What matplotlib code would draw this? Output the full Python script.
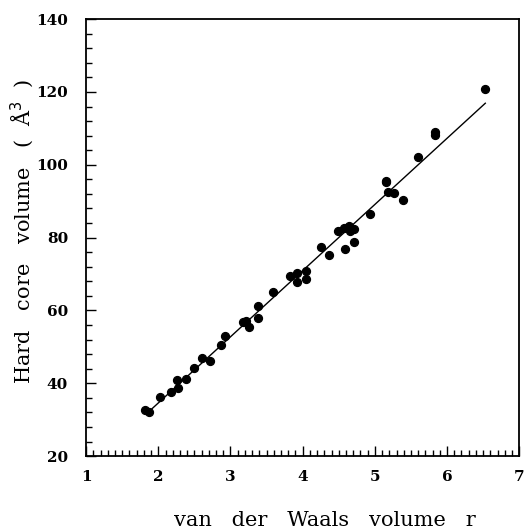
import matplotlib
matplotlib.use("Agg")
import matplotlib.pyplot as plt
from matplotlib.ticker import MultipleLocator

# van der Waals volume r vs hard core volume (A^3)
vdw_r = [1.81, 1.87, 2.03, 2.18, 2.26, 2.27, 2.38, 2.49, 2.60, 2.71,
         2.87, 2.93, 3.18, 3.21, 3.25, 3.38, 3.38, 3.59, 3.82, 3.92,
         3.92, 4.04, 4.04, 4.26, 4.37, 4.49, 4.57, 4.58, 4.64, 4.66,
         4.71, 4.71, 4.93, 5.16, 5.16, 5.18, 5.26, 5.39, 5.60, 5.83,
         5.83, 6.52]
hard_core = [32.6, 32.2, 36.2, 37.7, 40.8, 38.8, 41.2, 44.1, 46.9, 46.1,
             50.5, 53.0, 56.7, 57.1, 55.5, 61.3, 57.8, 65.2, 69.5, 70.3,
             67.7, 70.9, 68.6, 77.5, 75.3, 81.9, 82.6, 77.0, 83.1, 81.9,
             82.4, 78.9, 86.5, 95.6, 95.3, 92.6, 92.3, 90.4, 102.1, 109.0,
             108.3, 120.8]

# fitted line
fit_r = [1.89, 6.53]
fit_v = [32.6, 116.9]

plt.rcParams['font.family'] = ['DejaVu Serif']

fig = plt.figure(figsize=(5.25, 5.31), dpi=100)
ax = fig.add_axes([0.164, 0.141, 0.825, 0.823])

ax.plot(fit_r, fit_v, color='black', lw=1.0)
ax.scatter(vdw_r, hard_core, s=32, color='black', zorder=3)

ax.set_xlim(1, 7)
ax.set_ylim(20, 140)
ax.xaxis.set_major_locator(MultipleLocator(1))
ax.xaxis.set_minor_locator(MultipleLocator(0.1))
ax.yaxis.set_major_locator(MultipleLocator(20))
ax.yaxis.set_minor_locator(MultipleLocator(4))

ax.tick_params(which='both', direction='in', top=False, right=False, width=1)
ax.tick_params(which='major', length=7, labelsize=11)
ax.tick_params(which='minor', length=4)
ax.tick_params(axis='x', which='major', pad=10)
ax.tick_params(axis='y', which='major', pad=13)
for lab in ax.get_xticklabels() + ax.get_yticklabels():
    lab.set_fontweight('bold')
for sp in ax.spines.values():
    sp.set_linewidth(1.3)

ax.set_xlabel('van   der   Waals   volume   r', fontsize=15, va='center')
ax.set_ylabel('Hard   core   volume   (  Å$^3$  )', fontsize=15, va='center')
ax.xaxis.set_label_coords(0.551, -0.147)
ax.yaxis.set_label_coords(-0.148, 0.515)

fig.savefig('out.png', dpi=100)
